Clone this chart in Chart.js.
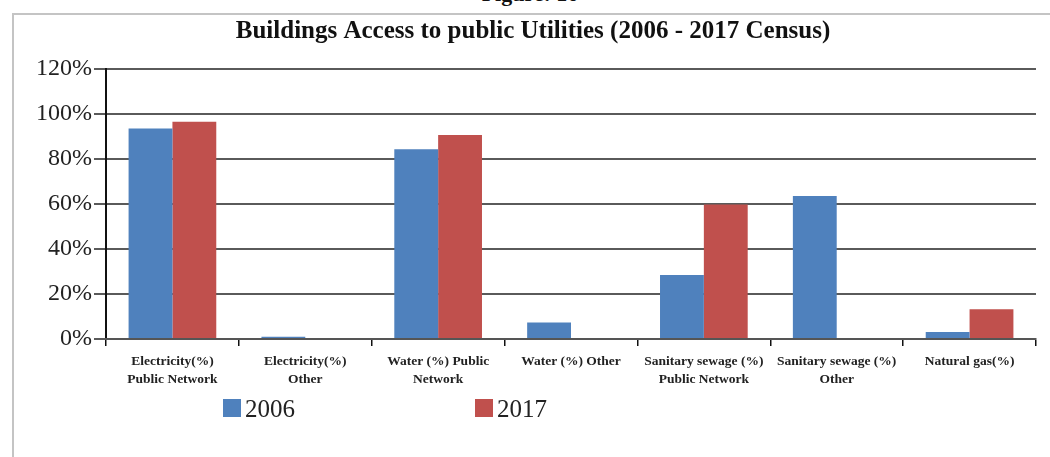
<!DOCTYPE html>
<html>
<head>
<meta charset="utf-8">
<script src="https://cdn.jsdelivr.net/npm/chart.js@4"></script>
<style>
  body { margin: 0; background: #fff; overflow: hidden; }
  #wrap { position: relative; width: 1050px; height: 457px; }
  #fig { position: absolute; left: 0; top: -19px; width: 1060px; text-align: center;
         font: bold 22px "Liberation Serif", serif; color: #111; }
  #frame { position: absolute; left: 12px; top: 13px; right: -4px; bottom: -4px;
           border-left: 2px solid #c4c4c4; border-top: 2px solid #c4c4c4; }
  canvas { position: absolute; left: 0; top: 0; }
</style>
</head>
<body>
<div id="wrap">
  <div id="fig">Figure: 16</div>
  <div id="frame"></div>
  <canvas id="chart" width="1050" height="457"></canvas>
</div>
<script>
// categories and census values (percent of buildings)
const categories = [
  ["Electricity(%)", "Public Network"],
  ["Electricity(%)", "Other"],
  ["Water (%) Public", "Network"],
  "Water (%) Other",
  ["Sanitary sewage (%)", "Public Network"],
  ["Sanitary sewage (%)", "Other"],
  "Natural gas(%)"
];
const values2006 = [93.6, 1.0, 84.3, 7.3, 28.4, 63.6, 3.1];
const values2017 = [96.6, 0, 90.7, 0, 59.8, 0, 13.2];
const seriesNames = ["2006", "2017"];

const serif = "'Liberation Serif', 'Times New Roman', serif";

// legend spread out under the plot, drawn from the dataset labels/colours
const spreadLegend = {
  id: "spreadLegend",
  afterDraw(chart, args, opts) {
    const ctx = chart.ctx;
    ctx.save();
    ctx.font = "25px " + serif;
    ctx.textBaseline = "alphabetic";
    chart.data.datasets.forEach((ds, i) => {
      const x = opts.xs[i];
      ctx.fillStyle = ds.backgroundColor;
      ctx.fillRect(x, opts.y, 18, 18);
      ctx.fillStyle = "#222";
      ctx.fillText(ds.label, x + 22, opts.y + 18);
    });
    ctx.restore();
  }
};

new Chart(document.getElementById("chart"), {
  type: "bar",
  data: {
    labels: categories,
    datasets: [
      { label: seriesNames[0], data: values2006, backgroundColor: "#4F81BD" },
      { label: seriesNames[1], data: values2017, backgroundColor: "#C0504D" }
    ]
  },
  options: {
    responsive: false,
    animation: false,
    layout: { padding: { left: 30, right: 14, top: 17, bottom: 66 } },
    datasets: { bar: { categoryPercentage: 0.66, barPercentage: 1.0 } },
    plugins: {
      legend: { display: false },
      tooltip: { enabled: false },
      title: {
        display: true,
        text: "Buildings Access to public Utilities (2006 - 2017 Census)",
        color: "#111",
        font: { family: serif, size: 25, weight: "bold" },
        padding: { top: 0, bottom: 22 }
      },
      spreadLegend: { xs: [223, 475], y: 399 }
    },
    scales: {
      y: {
        min: 0,
        max: 120,
        afterFit: (s) => { s.width = 76; },
        ticks: {
          stepSize: 20,
          padding: 2,
          color: "#222",
          font: { family: serif, size: 24 },
          callback: (v) => v + "%"
        },
        grid: { color: "#5a5a5a", lineWidth: 2, tickLength: 12, tickColor: "#5a5a5a" },
        border: { color: "#111", width: 2 }
      },
      x: {
        afterFit: (s) => { s.height = 52; },
        ticks: {
          color: "#222",
          padding: 7,
          maxRotation: 0,
          autoSkip: false,
          font: { family: serif, size: 13.5, weight: "bold", lineHeight: 1.3 }
        },
        grid: { offset: true, drawOnChartArea: false, tickLength: 7, tickColor: "#111", lineWidth: 1.5 },
        border: { color: "#555", width: 2 }
      }
    }
  },
  plugins: [spreadLegend]
});
</script>
</body>
</html>
